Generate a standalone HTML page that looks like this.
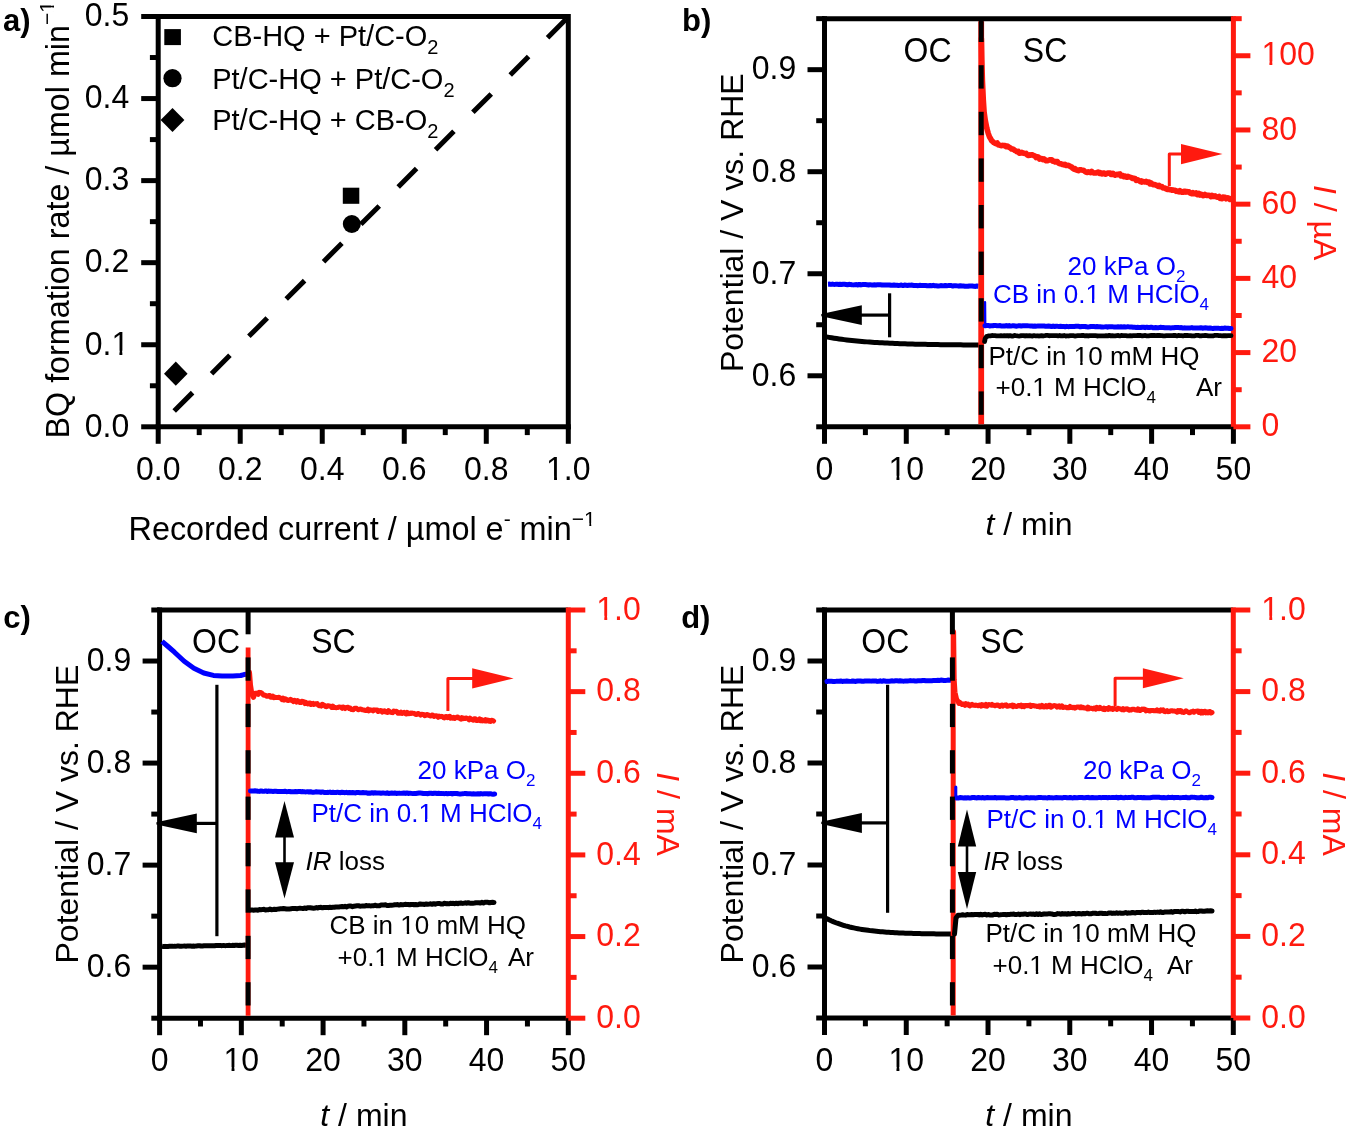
<!DOCTYPE html>
<html><head><meta charset="utf-8"><title>Figure</title>
<style>
html,body{margin:0;padding:0;background:#fff;width:1350px;height:1130px;overflow:hidden}
svg{display:block;will-change:transform}
text{font-family:"Liberation Sans", sans-serif;white-space:pre}
</style></head>
<body>
<svg width="1350" height="1130" viewBox="0 0 1350 1130" font-family='"Liberation Sans", sans-serif'>
<rect width="1350" height="1130" fill="#fff"/>
<line x1="155.70" y1="16.50" x2="568.30" y2="16.50" stroke="#000" stroke-width="5.0" />
<line x1="158.20" y1="14.00" x2="158.20" y2="429.30" stroke="#000" stroke-width="5.0" />
<line x1="155.70" y1="426.80" x2="570.80" y2="426.80" stroke="#000" stroke-width="5.0" />
<line x1="568.30" y1="14.00" x2="568.30" y2="429.30" stroke="#000" stroke-width="5.0" />
<line x1="141.20" y1="426.80" x2="158.20" y2="426.80" stroke="#000" stroke-width="5.0" />
<line x1="141.20" y1="344.74" x2="158.20" y2="344.74" stroke="#000" stroke-width="5.0" />
<line x1="141.20" y1="262.68" x2="158.20" y2="262.68" stroke="#000" stroke-width="5.0" />
<line x1="141.20" y1="180.62" x2="158.20" y2="180.62" stroke="#000" stroke-width="5.0" />
<line x1="141.20" y1="98.56" x2="158.20" y2="98.56" stroke="#000" stroke-width="5.0" />
<line x1="141.20" y1="16.50" x2="158.20" y2="16.50" stroke="#000" stroke-width="5.0" />
<line x1="149.90" y1="385.77" x2="158.20" y2="385.77" stroke="#000" stroke-width="5.0" />
<line x1="149.90" y1="303.71" x2="158.20" y2="303.71" stroke="#000" stroke-width="5.0" />
<line x1="149.90" y1="221.65" x2="158.20" y2="221.65" stroke="#000" stroke-width="5.0" />
<line x1="149.90" y1="139.59" x2="158.20" y2="139.59" stroke="#000" stroke-width="5.0" />
<line x1="149.90" y1="57.53" x2="158.20" y2="57.53" stroke="#000" stroke-width="5.0" />
<line x1="158.20" y1="426.80" x2="158.20" y2="443.80" stroke="#000" stroke-width="5.0" />
<line x1="240.22" y1="426.80" x2="240.22" y2="443.80" stroke="#000" stroke-width="5.0" />
<line x1="322.24" y1="426.80" x2="322.24" y2="443.80" stroke="#000" stroke-width="5.0" />
<line x1="404.26" y1="426.80" x2="404.26" y2="443.80" stroke="#000" stroke-width="5.0" />
<line x1="486.28" y1="426.80" x2="486.28" y2="443.80" stroke="#000" stroke-width="5.0" />
<line x1="568.30" y1="426.80" x2="568.30" y2="443.80" stroke="#000" stroke-width="5.0" />
<line x1="199.21" y1="426.80" x2="199.21" y2="435.10" stroke="#000" stroke-width="5.0" />
<line x1="281.23" y1="426.80" x2="281.23" y2="435.10" stroke="#000" stroke-width="5.0" />
<line x1="363.25" y1="426.80" x2="363.25" y2="435.10" stroke="#000" stroke-width="5.0" />
<line x1="445.27" y1="426.80" x2="445.27" y2="435.10" stroke="#000" stroke-width="5.0" />
<line x1="527.29" y1="426.80" x2="527.29" y2="435.10" stroke="#000" stroke-width="5.0" />
<text transform="translate(129.20,436.60) scale(1,1.03)" font-size="32" text-anchor="end" fill="#000" font-weight="normal" >0.0</text>
<text transform="translate(129.20,354.54) scale(1,1.03)" font-size="32" text-anchor="end" fill="#000" font-weight="normal" >0.1</text>
<text transform="translate(129.20,272.48) scale(1,1.03)" font-size="32" text-anchor="end" fill="#000" font-weight="normal" >0.2</text>
<text transform="translate(129.20,190.42) scale(1,1.03)" font-size="32" text-anchor="end" fill="#000" font-weight="normal" >0.3</text>
<text transform="translate(129.20,108.36) scale(1,1.03)" font-size="32" text-anchor="end" fill="#000" font-weight="normal" >0.4</text>
<text transform="translate(129.20,26.30) scale(1,1.03)" font-size="32" text-anchor="end" fill="#000" font-weight="normal" >0.5</text>
<text transform="translate(158.20,479.60) scale(1,1.03)" font-size="32" text-anchor="middle" fill="#000" font-weight="normal" >0.0</text>
<text transform="translate(240.22,479.60) scale(1,1.03)" font-size="32" text-anchor="middle" fill="#000" font-weight="normal" >0.2</text>
<text transform="translate(322.24,479.60) scale(1,1.03)" font-size="32" text-anchor="middle" fill="#000" font-weight="normal" >0.4</text>
<text transform="translate(404.26,479.60) scale(1,1.03)" font-size="32" text-anchor="middle" fill="#000" font-weight="normal" >0.6</text>
<text transform="translate(486.28,479.60) scale(1,1.03)" font-size="32" text-anchor="middle" fill="#000" font-weight="normal" >0.8</text>
<text transform="translate(568.30,479.60) scale(1,1.03)" font-size="32" text-anchor="middle" fill="#000" font-weight="normal" >1.0</text>
<line x1="174.2" y1="411.0" x2="568.3" y2="16.9" stroke="#000" stroke-width="5.0" stroke-dasharray="26 26.8"/>
<rect x="342.8" y="187.7" width="16.5" height="16.1" fill="#000"/>
<circle cx="351.8" cy="224.0" r="9.0" fill="#000"/>
<path d="M175.8,361.6 L187.6,373.7 L175.8,385.8 L164.0,373.7Z" fill="#000"/>
<rect x="164.3" y="29.1" width="16.6" height="16.0" fill="#000"/>
<circle cx="172.5" cy="78.2" r="9.1" fill="#000"/>
<path d="M172.5,108 L184.4,120 L172.5,132 L160.6,120Z" fill="#000"/>
<text x="212.2" y="46.3" font-size="29">CB-HQ + Pt/C-O<tspan font-size="20" dy="8">2</tspan></text>
<text x="212.2" y="88.5" font-size="29">Pt/C-HQ + Pt/C-O<tspan font-size="20" dy="8">2</tspan></text>
<text x="212.2" y="129.5" font-size="29">Pt/C-HQ + CB-O<tspan font-size="20" dy="8">2</tspan></text>
<text transform="translate(68.5,438.5) rotate(-90)" font-size="32.3">BQ formation rate / µmol min<tspan font-size="21" dy="-15">−1</tspan></text>
<text x="128.5" y="539.8" font-size="32.4">Recorded current / µmol e<tspan font-size="21" dy="-14">-</tspan><tspan dy="14"> min</tspan><tspan font-size="21" dy="-14">−1</tspan></text>
<text x="3.00" y="31.00" font-size="31" text-anchor="start" fill="#000" font-weight="bold" >a)</text>
<line x1="822.00" y1="18.65" x2="1233.40" y2="18.65" stroke="#000" stroke-width="5.0" />
<line x1="824.50" y1="16.15" x2="824.50" y2="429.30" stroke="#000" stroke-width="5.0" />
<line x1="822.00" y1="426.80" x2="1235.90" y2="426.80" stroke="#000" stroke-width="5.0" />
<line x1="1233.40" y1="16.15" x2="1233.40" y2="429.30" stroke="#ff1a0f" stroke-width="5.0" />
<line x1="807.50" y1="375.78" x2="824.50" y2="375.78" stroke="#000" stroke-width="5.0" />
<line x1="807.50" y1="273.74" x2="824.50" y2="273.74" stroke="#000" stroke-width="5.0" />
<line x1="807.50" y1="171.71" x2="824.50" y2="171.71" stroke="#000" stroke-width="5.0" />
<line x1="807.50" y1="69.67" x2="824.50" y2="69.67" stroke="#000" stroke-width="5.0" />
<line x1="816.20" y1="426.80" x2="824.50" y2="426.80" stroke="#000" stroke-width="5.0" />
<line x1="816.20" y1="324.76" x2="824.50" y2="324.76" stroke="#000" stroke-width="5.0" />
<line x1="816.20" y1="222.73" x2="824.50" y2="222.73" stroke="#000" stroke-width="5.0" />
<line x1="816.20" y1="120.69" x2="824.50" y2="120.69" stroke="#000" stroke-width="5.0" />
<line x1="816.20" y1="18.65" x2="824.50" y2="18.65" stroke="#000" stroke-width="5.0" />
<line x1="824.50" y1="426.80" x2="824.50" y2="443.80" stroke="#000" stroke-width="5.0" />
<line x1="906.28" y1="426.80" x2="906.28" y2="443.80" stroke="#000" stroke-width="5.0" />
<line x1="988.06" y1="426.80" x2="988.06" y2="443.80" stroke="#000" stroke-width="5.0" />
<line x1="1069.84" y1="426.80" x2="1069.84" y2="443.80" stroke="#000" stroke-width="5.0" />
<line x1="1151.62" y1="426.80" x2="1151.62" y2="443.80" stroke="#000" stroke-width="5.0" />
<line x1="1233.40" y1="426.80" x2="1233.40" y2="443.80" stroke="#000" stroke-width="5.0" />
<line x1="865.39" y1="426.80" x2="865.39" y2="435.10" stroke="#000" stroke-width="5.0" />
<line x1="947.17" y1="426.80" x2="947.17" y2="435.10" stroke="#000" stroke-width="5.0" />
<line x1="1028.95" y1="426.80" x2="1028.95" y2="435.10" stroke="#000" stroke-width="5.0" />
<line x1="1110.73" y1="426.80" x2="1110.73" y2="435.10" stroke="#000" stroke-width="5.0" />
<line x1="1192.51" y1="426.80" x2="1192.51" y2="435.10" stroke="#000" stroke-width="5.0" />
<line x1="1233.40" y1="426.80" x2="1250.40" y2="426.80" stroke="#ff1a0f" stroke-width="5.0" />
<line x1="1233.40" y1="352.59" x2="1250.40" y2="352.59" stroke="#ff1a0f" stroke-width="5.0" />
<line x1="1233.40" y1="278.38" x2="1250.40" y2="278.38" stroke="#ff1a0f" stroke-width="5.0" />
<line x1="1233.40" y1="204.17" x2="1250.40" y2="204.17" stroke="#ff1a0f" stroke-width="5.0" />
<line x1="1233.40" y1="129.96" x2="1250.40" y2="129.96" stroke="#ff1a0f" stroke-width="5.0" />
<line x1="1233.40" y1="55.75" x2="1250.40" y2="55.75" stroke="#ff1a0f" stroke-width="5.0" />
<line x1="1233.40" y1="389.70" x2="1241.70" y2="389.70" stroke="#ff1a0f" stroke-width="5.0" />
<line x1="1233.40" y1="315.49" x2="1241.70" y2="315.49" stroke="#ff1a0f" stroke-width="5.0" />
<line x1="1233.40" y1="241.28" x2="1241.70" y2="241.28" stroke="#ff1a0f" stroke-width="5.0" />
<line x1="1233.40" y1="167.07" x2="1241.70" y2="167.07" stroke="#ff1a0f" stroke-width="5.0" />
<line x1="1233.40" y1="92.86" x2="1241.70" y2="92.86" stroke="#ff1a0f" stroke-width="5.0" />
<line x1="1233.40" y1="18.65" x2="1241.70" y2="18.65" stroke="#ff1a0f" stroke-width="5.0" />
<text transform="translate(796.20,385.58) scale(1,1.03)" font-size="32" text-anchor="end" fill="#000" font-weight="normal" >0.6</text>
<text transform="translate(796.20,283.54) scale(1,1.03)" font-size="32" text-anchor="end" fill="#000" font-weight="normal" >0.7</text>
<text transform="translate(796.20,181.51) scale(1,1.03)" font-size="32" text-anchor="end" fill="#000" font-weight="normal" >0.8</text>
<text transform="translate(796.20,79.47) scale(1,1.03)" font-size="32" text-anchor="end" fill="#000" font-weight="normal" >0.9</text>
<text transform="translate(824.50,479.60) scale(1,1.03)" font-size="32" text-anchor="middle" fill="#000" font-weight="normal" >0</text>
<text transform="translate(906.28,479.60) scale(1,1.03)" font-size="32" text-anchor="middle" fill="#000" font-weight="normal" >10</text>
<text transform="translate(988.06,479.60) scale(1,1.03)" font-size="32" text-anchor="middle" fill="#000" font-weight="normal" >20</text>
<text transform="translate(1069.84,479.60) scale(1,1.03)" font-size="32" text-anchor="middle" fill="#000" font-weight="normal" >30</text>
<text transform="translate(1151.62,479.60) scale(1,1.03)" font-size="32" text-anchor="middle" fill="#000" font-weight="normal" >40</text>
<text transform="translate(1233.40,479.60) scale(1,1.03)" font-size="32" text-anchor="middle" fill="#000" font-weight="normal" >50</text>
<text transform="translate(1261.40,436.40) scale(1,1.03)" font-size="32" text-anchor="start" fill="#ff1a0f" font-weight="normal" >0</text>
<text transform="translate(1261.40,362.19) scale(1,1.03)" font-size="32" text-anchor="start" fill="#ff1a0f" font-weight="normal" >20</text>
<text transform="translate(1261.40,287.98) scale(1,1.03)" font-size="32" text-anchor="start" fill="#ff1a0f" font-weight="normal" >40</text>
<text transform="translate(1261.40,213.77) scale(1,1.03)" font-size="32" text-anchor="start" fill="#ff1a0f" font-weight="normal" >60</text>
<text transform="translate(1261.40,139.56) scale(1,1.03)" font-size="32" text-anchor="start" fill="#ff1a0f" font-weight="normal" >80</text>
<text transform="translate(1261.40,65.35) scale(1,1.03)" font-size="32" text-anchor="start" fill="#ff1a0f" font-weight="normal" >100</text>
<text transform="translate(743.0,222.7) rotate(-90)" font-size="32" text-anchor="middle">Potential / V vs. RHE</text>
<text transform="translate(1313.9,222.7) rotate(90)" font-size="32" text-anchor="middle" fill="#ff1a0f"><tspan font-style="italic">I</tspan> / µA</text>
<text x="1029.0" y="534.6" font-size="32" text-anchor="middle"><tspan font-style="italic">t</tspan> / min</text>
<text x="682.00" y="30.60" font-size="31" text-anchor="start" fill="#000" font-weight="bold" >b)</text>
<path d="M828.00,284.19 L829.50,284.11 L831.00,284.43 L832.50,284.10 L834.00,284.40 L835.50,284.31 L837.00,284.15 L838.50,284.44 L840.00,284.17 L841.50,284.43 L843.00,284.23 L844.50,284.26 L846.00,284.48 L847.50,284.74 L849.00,284.34 L850.50,284.42 L852.00,284.68 L853.50,284.89 L855.00,284.68 L856.50,284.59 L858.00,284.96 L859.50,284.42 L861.00,284.93 L862.50,284.61 L864.00,284.54 L865.50,284.54 L867.00,284.67 L868.50,285.00 L870.00,284.63 L871.50,284.89 L873.00,284.95 L874.50,284.80 L876.00,284.93 L877.50,284.66 L879.00,284.67 L880.50,284.78 L882.00,285.08 L883.50,284.95 L885.00,284.90 L886.50,285.08 L888.00,285.02 L889.50,284.95 L891.00,285.26 L892.50,285.23 L894.00,284.97 L895.50,285.19 L897.00,285.18 L898.50,285.41 L900.00,285.34 L901.51,285.09 L903.02,285.53 L904.53,285.03 L906.04,285.23 L907.55,285.45 L909.06,285.11 L910.57,285.33 L912.08,285.08 L913.59,285.47 L915.10,285.55 L916.61,285.46 L918.12,285.66 L919.62,285.34 L921.13,285.59 L922.64,285.55 L924.15,285.56 L925.66,285.50 L927.17,285.75 L928.68,285.83 L930.19,285.57 L931.70,285.70 L933.21,285.36 L934.72,285.76 L936.23,285.75 L937.74,285.98 L939.25,285.89 L940.76,285.59 L942.27,285.67 L943.78,285.86 L945.29,285.49 L946.80,285.77 L948.31,285.62 L949.82,285.60 L951.33,285.59 L952.84,286.03 L954.35,285.67 L955.86,285.76 L957.37,285.87 L958.88,286.17 L960.38,285.72 L961.89,285.96 L963.40,286.04 L964.91,286.26 L966.42,286.24 L967.93,286.28 L969.44,285.95 L970.95,286.05 L972.46,286.04 L973.97,286.37 L975.48,286.44 L976.99,285.97 L978.50,286.20" fill="none" stroke="#0000ff" stroke-width="5" stroke-linejoin="round" stroke-linecap="butt" />
<path d="M826.50,336.89 L829.03,337.35 L831.57,337.79 L834.10,338.20 L836.63,338.59 L839.17,338.96 L841.70,339.30 L844.23,339.63 L846.77,339.94 L849.30,340.24 L851.83,340.51 L854.37,340.77 L856.90,341.02 L859.43,341.26 L861.97,341.48 L864.50,341.69 L867.03,341.88 L869.57,342.07 L872.10,342.25 L874.63,342.42 L877.17,342.57 L879.70,342.72 L882.23,342.86 L884.77,343.00 L887.30,343.12 L889.83,343.24 L892.37,343.36 L894.90,343.46 L897.43,343.56 L899.97,343.66 L902.50,343.75 L905.03,343.83 L907.57,343.91 L910.10,343.99 L912.63,344.06 L915.17,344.13 L917.70,344.19 L920.23,344.25 L922.77,344.31 L925.30,344.36 L927.83,344.42 L930.37,344.46 L932.90,344.51 L935.43,344.55 L937.97,344.59 L940.50,344.63 L943.03,344.67 L945.57,344.70 L948.10,344.74 L950.63,344.77 L953.17,344.80 L955.70,344.82 L958.23,344.85 L960.77,344.87 L963.30,344.90 L965.83,344.92 L968.37,344.94 L970.90,344.96 L973.43,344.98 L975.97,345.00 L978.50,345.01" fill="none" stroke="#000" stroke-width="5" stroke-linejoin="round" stroke-linecap="round" />
<line x1="981.20" y1="424.30" x2="981.20" y2="21.15" stroke="#ff1a0f" stroke-width="5.8" />
<path d="M981.40,38.92 L981.80,59.52 L982.40,80.52 L983.30,99.97 L984.10,112.16 L985.30,120.57 L986.90,128.61 L988.15,133.05 L989.40,136.66 L990.52,138.44 L991.65,140.57 L992.77,141.52 L993.90,142.63 L995.00,143.21 L996.10,143.72 L997.20,143.00 L998.30,144.92 L999.41,145.03 L1000.52,145.52 L1001.64,145.71 L1002.75,145.31 L1003.86,145.64 L1004.98,145.44 L1006.09,146.72 L1007.20,146.01 L1008.31,146.65 L1009.43,147.53 L1010.54,148.07 L1011.65,149.01 L1012.76,149.12 L1013.88,149.65 L1014.99,150.55 L1016.10,151.08 L1017.21,151.80 L1018.33,151.45 L1019.44,153.22 L1020.55,153.01 L1021.66,152.42 L1022.77,152.85 L1023.89,153.28 L1025.00,153.56 L1026.11,153.40 L1027.22,154.98 L1028.34,155.51 L1029.45,154.84 L1030.56,155.15 L1031.68,154.70 L1032.79,155.01 L1033.90,155.72 L1035.01,156.03 L1036.12,157.49 L1037.24,156.74 L1038.35,156.94 L1039.46,159.06 L1040.58,158.75 L1041.69,158.51 L1042.80,159.68 L1043.91,158.85 L1045.03,159.85 L1046.14,160.76 L1047.25,160.65 L1048.36,160.45 L1049.47,159.77 L1050.59,160.06 L1051.70,159.80 L1052.81,161.23 L1053.92,161.13 L1055.04,161.91 L1056.15,161.44 L1057.26,161.59 L1058.38,162.99 L1059.49,163.64 L1060.60,163.73 L1061.70,164.10 L1062.80,164.57 L1063.90,164.88 L1065.00,164.41 L1066.10,165.38 L1067.20,165.54 L1068.30,165.40 L1069.40,165.85 L1070.51,166.69 L1071.62,167.04 L1072.74,168.21 L1073.85,169.07 L1074.96,168.54 L1076.08,169.81 L1077.19,170.29 L1078.30,170.62 L1079.41,169.81 L1080.53,169.80 L1081.64,170.06 L1082.75,170.25 L1083.86,170.52 L1084.97,171.52 L1086.09,172.27 L1087.20,172.41 L1088.31,171.85 L1089.42,172.25 L1090.54,172.60 L1091.65,171.40 L1092.76,172.53 L1093.88,173.06 L1094.99,172.92 L1096.10,172.95 L1097.10,172.56 L1098.10,172.12 L1099.10,173.32 L1100.10,172.60 L1101.10,173.54 L1102.10,173.95 L1103.10,173.01 L1104.10,173.12 L1105.28,174.18 L1106.46,173.86 L1107.64,172.95 L1108.82,172.95 L1110.00,173.07 L1111.00,174.54 L1112.00,174.47 L1113.00,173.39 L1114.00,174.73 L1115.00,175.11 L1116.00,174.64 L1117.00,174.20 L1118.00,174.67 L1119.00,174.03 L1120.00,173.93 L1121.00,175.92 L1122.00,175.61 L1123.00,175.66 L1124.00,176.66 L1125.00,176.03 L1126.00,177.09 L1127.00,177.28 L1128.00,176.44 L1129.00,176.78 L1130.00,177.13 L1131.00,177.36 L1132.00,178.32 L1133.00,178.06 L1134.00,178.67 L1135.00,178.49 L1136.00,180.22 L1137.00,179.55 L1138.00,180.06 L1139.00,180.62 L1140.00,181.53 L1141.00,180.90 L1142.00,182.03 L1143.00,181.52 L1144.00,181.82 L1145.00,182.04 L1146.00,181.37 L1147.00,182.37 L1148.00,182.15 L1149.00,182.07 L1150.00,183.74 L1151.00,182.94 L1152.00,183.81 L1153.00,184.60 L1154.00,184.62 L1155.00,184.54 L1156.00,185.21 L1157.00,185.61 L1158.00,186.35 L1159.00,185.46 L1160.00,186.61 L1161.00,186.36 L1162.00,186.72 L1163.00,187.92 L1164.00,187.75 L1165.00,188.16 L1166.00,188.83 L1167.00,189.41 L1168.00,188.88 L1169.00,189.49 L1170.00,189.61 L1171.00,189.78 L1172.00,190.27 L1173.00,189.99 L1174.00,190.30 L1175.00,190.36 L1176.00,191.35 L1177.00,191.08 L1178.00,191.56 L1179.00,191.84 L1180.00,190.77 L1181.00,191.47 L1182.00,192.32 L1183.00,192.29 L1184.00,191.19 L1185.00,191.32 L1186.00,192.06 L1187.00,191.55 L1188.00,192.01 L1189.00,191.87 L1190.00,193.11 L1191.00,193.45 L1192.00,193.79 L1193.00,192.60 L1194.00,193.75 L1195.00,193.79 L1196.00,193.00 L1197.00,194.47 L1198.00,194.76 L1199.00,193.56 L1200.00,195.01 L1201.00,194.20 L1202.00,194.54 L1203.00,195.62 L1204.00,195.52 L1205.00,194.49 L1206.00,195.16 L1207.00,195.49 L1208.00,195.35 L1209.00,195.27 L1210.00,195.67 L1211.00,196.55 L1212.00,195.44 L1213.00,196.55 L1214.00,196.49 L1215.00,195.88 L1216.00,196.60 L1217.00,197.27 L1218.00,197.22 L1219.00,196.57 L1220.00,198.37 L1221.00,198.14 L1222.00,198.59 L1223.00,197.14 L1224.00,197.55 L1225.00,197.26 L1226.00,198.71 L1227.00,197.91 L1228.00,197.78 L1229.00,198.42 L1230.00,199.42 L1231.00,198.80" fill="none" stroke="#ff1a0f" stroke-width="5.6" stroke-linejoin="round" stroke-linecap="round" />
<path d="M985.00,302.30 L985.20,323.00" fill="none" stroke="#0000ff" stroke-width="2.4" stroke-linejoin="round" stroke-linecap="round" />
<path d="M985.00,325.79 L986.51,325.47 L988.03,325.42 L989.54,325.90 L991.05,325.71 L992.57,325.80 L994.08,325.45 L995.59,325.45 L997.11,325.84 L998.62,325.70 L1000.13,325.50 L1001.64,326.04 L1003.16,325.87 L1004.67,325.99 L1006.18,325.57 L1007.70,326.05 L1009.21,325.59 L1010.72,326.09 L1012.24,325.86 L1013.75,325.80 L1015.26,325.95 L1016.78,326.19 L1018.29,325.81 L1019.80,325.74 L1021.32,326.00 L1022.83,325.84 L1024.34,325.78 L1025.86,325.82 L1027.37,325.77 L1028.88,325.88 L1030.39,325.96 L1031.91,325.97 L1033.42,326.26 L1034.93,326.00 L1036.45,326.14 L1037.96,325.96 L1039.47,326.08 L1040.99,325.90 L1042.50,326.05 L1044.01,325.92 L1045.53,326.37 L1047.04,326.28 L1048.55,326.08 L1050.07,326.26 L1051.58,326.56 L1053.09,326.07 L1054.61,326.52 L1056.12,326.30 L1057.63,326.35 L1059.14,326.57 L1060.66,326.33 L1062.17,326.41 L1063.68,326.53 L1065.20,326.73 L1066.71,326.36 L1068.22,326.67 L1069.74,326.61 L1071.25,326.58 L1072.76,326.46 L1074.28,326.44 L1075.79,326.28 L1077.30,326.34 L1078.82,326.32 L1080.33,326.74 L1081.84,326.46 L1083.36,326.42 L1084.87,326.39 L1086.38,326.86 L1087.89,326.90 L1089.41,326.79 L1090.92,326.57 L1092.43,326.57 L1093.95,326.61 L1095.46,326.73 L1096.97,326.56 L1098.49,326.75 L1100.00,326.66 L1101.51,327.10 L1103.01,327.12 L1104.52,326.88 L1106.02,326.72 L1107.53,327.17 L1109.03,326.80 L1110.54,326.84 L1112.05,326.65 L1113.55,326.89 L1115.06,326.97 L1116.56,327.00 L1118.07,326.84 L1119.57,327.04 L1121.08,326.76 L1122.59,326.93 L1124.09,326.85 L1125.60,327.05 L1127.10,326.86 L1128.61,326.86 L1130.11,327.05 L1131.62,327.03 L1133.13,327.26 L1134.63,327.24 L1136.14,327.39 L1137.64,327.35 L1139.15,327.41 L1140.66,327.52 L1142.16,327.25 L1143.67,327.23 L1145.17,327.64 L1146.68,327.16 L1148.18,327.52 L1149.69,327.49 L1151.20,327.15 L1152.70,327.64 L1154.21,327.70 L1155.71,327.56 L1157.22,327.64 L1158.72,327.70 L1160.23,327.32 L1161.74,327.57 L1163.24,327.58 L1164.75,327.79 L1166.25,327.79 L1167.76,327.82 L1169.26,327.70 L1170.77,327.90 L1172.28,327.79 L1173.78,327.82 L1175.29,327.56 L1176.79,327.46 L1178.30,327.54 L1179.80,327.69 L1181.31,327.56 L1182.82,328.01 L1184.32,327.87 L1185.83,327.92 L1187.33,327.94 L1188.84,327.99 L1190.34,327.90 L1191.85,327.62 L1193.36,328.12 L1194.86,328.11 L1196.37,327.98 L1197.87,328.02 L1199.38,328.11 L1200.89,327.77 L1202.39,328.19 L1203.90,327.92 L1205.40,327.83 L1206.91,327.97 L1208.41,328.26 L1209.92,327.97 L1211.43,328.30 L1212.93,328.46 L1214.44,328.19 L1215.94,328.15 L1217.45,328.22 L1218.95,328.36 L1220.46,328.43 L1221.97,328.36 L1223.47,328.39 L1224.98,328.07 L1226.48,328.13 L1227.99,328.22 L1229.49,328.53 L1231.00,328.40" fill="none" stroke="#0000ff" stroke-width="5" stroke-linejoin="round" stroke-linecap="round" />
<path d="M984.60,341.50 L985.20,338.50 L986.50,336.60 L989.00,335.80 L990.50,335.84 L992.01,335.50 L993.51,335.53 L995.01,335.66 L996.52,335.90 L998.02,335.91 L999.52,335.90 L1001.02,335.66 L1002.53,335.80 L1004.03,335.77 L1005.53,335.77 L1007.04,335.56 L1008.54,336.02 L1010.04,335.60 L1011.55,336.07 L1013.05,336.04 L1014.55,335.49 L1016.06,335.75 L1017.56,335.97 L1019.06,336.06 L1020.57,335.74 L1022.07,335.63 L1023.57,335.60 L1025.07,336.04 L1026.58,335.60 L1028.08,335.82 L1029.58,335.55 L1031.09,335.78 L1032.59,336.04 L1034.09,335.54 L1035.60,335.95 L1037.10,335.77 L1038.60,335.99 L1040.11,335.88 L1041.61,335.60 L1043.11,335.99 L1044.61,335.75 L1046.12,335.47 L1047.62,335.45 L1049.12,335.75 L1050.63,335.72 L1052.13,335.63 L1053.63,335.53 L1055.14,335.65 L1056.64,335.63 L1058.14,335.95 L1059.65,335.44 L1061.15,335.89 L1062.65,335.94 L1064.16,335.51 L1065.66,335.99 L1067.16,335.86 L1068.66,335.98 L1070.17,335.61 L1071.67,335.66 L1073.17,335.67 L1074.68,336.03 L1076.18,335.78 L1077.68,335.64 L1079.19,335.68 L1080.69,335.59 L1082.19,335.45 L1083.70,335.48 L1085.20,335.92 L1086.70,335.59 L1088.20,335.98 L1089.71,335.57 L1091.21,335.57 L1092.71,335.72 L1094.22,335.53 L1095.72,335.64 L1097.22,335.98 L1098.73,335.94 L1100.23,335.90 L1101.73,335.79 L1103.24,335.95 L1104.74,335.97 L1106.24,335.73 L1107.75,335.83 L1109.25,335.43 L1110.75,335.84 L1112.25,335.67 L1113.76,335.85 L1115.26,335.78 L1116.76,335.57 L1118.27,335.42 L1119.77,335.95 L1121.27,335.47 L1122.78,335.67 L1124.28,335.59 L1125.78,335.57 L1127.29,335.83 L1128.79,335.97 L1130.29,335.54 L1131.80,335.78 L1133.30,335.56 L1134.80,335.71 L1136.30,335.61 L1137.81,335.48 L1139.31,335.47 L1140.81,335.50 L1142.32,335.92 L1143.82,335.67 L1145.32,335.50 L1146.83,335.91 L1148.33,335.97 L1149.83,335.64 L1151.34,335.45 L1152.84,335.48 L1154.34,335.42 L1155.84,335.57 L1157.35,335.42 L1158.85,335.50 L1160.35,335.51 L1161.86,335.70 L1163.36,335.89 L1164.86,335.80 L1166.37,335.60 L1167.87,335.60 L1169.37,335.67 L1170.88,335.58 L1172.38,335.55 L1173.88,335.38 L1175.39,335.51 L1176.89,335.93 L1178.39,335.42 L1179.89,335.64 L1181.40,335.72 L1182.90,335.86 L1184.40,335.47 L1185.91,335.50 L1187.41,335.49 L1188.91,335.57 L1190.42,335.60 L1191.92,335.90 L1193.42,335.84 L1194.93,335.85 L1196.43,335.34 L1197.93,335.35 L1199.43,335.75 L1200.94,335.86 L1202.44,335.61 L1203.94,335.67 L1205.45,335.32 L1206.95,335.55 L1208.45,335.87 L1209.96,335.81 L1211.46,335.83 L1212.96,335.90 L1214.47,335.46 L1215.97,335.38 L1217.47,335.40 L1218.98,335.62 L1220.48,335.72 L1221.98,335.87 L1223.48,335.74 L1224.99,335.69 L1226.49,335.76 L1227.99,335.58 L1229.50,335.63 L1231.00,335.60" fill="none" stroke="#000" stroke-width="4.8" stroke-linejoin="round" stroke-linecap="round" />
<line x1="981.20" y1="18.65" x2="981.20" y2="42.00" stroke="#000" stroke-width="5.0" />
<line x1="981.20" y1="65.20" x2="981.20" y2="88.60" stroke="#000" stroke-width="5.0" />
<line x1="981.20" y1="111.80" x2="981.20" y2="135.20" stroke="#000" stroke-width="5.0" />
<line x1="981.20" y1="158.40" x2="981.20" y2="181.80" stroke="#000" stroke-width="5.0" />
<line x1="981.20" y1="205.00" x2="981.20" y2="228.40" stroke="#000" stroke-width="5.0" />
<line x1="981.20" y1="251.60" x2="981.20" y2="275.00" stroke="#000" stroke-width="5.0" />
<line x1="981.20" y1="298.20" x2="981.20" y2="321.60" stroke="#000" stroke-width="5.0" />
<line x1="981.20" y1="344.80" x2="981.20" y2="368.20" stroke="#000" stroke-width="5.0" />
<line x1="981.20" y1="391.40" x2="981.20" y2="414.80" stroke="#000" stroke-width="5.0" />
<path d="M821.30,314.00 L861.80,305.30 L861.80,324.90 L821.30,316.20Z" fill="#000" stroke="none" />
<line x1="860.80" y1="315.10" x2="889.60" y2="315.10" stroke="#000" stroke-width="3.2" />
<line x1="889.60" y1="293.30" x2="889.60" y2="337.30" stroke="#000" stroke-width="3.2" />
<path d="M1169.30,186.00 L1169.30,154.10 L1182.00,154.10" fill="none" stroke="#ff1a0f" stroke-width="3.0" stroke-linejoin="round" stroke-linecap="butt" />
<path d="M1181.00,144.00 L1222.50,154.10 L1181.00,164.20Z" fill="#ff1a0f" stroke="none" />
<text transform="translate(903.50,62.30) scale(1,1.1)" font-size="32" text-anchor="start" fill="#000" font-weight="normal" >OC</text>
<text transform="translate(1022.80,62.30) scale(1,1.1)" font-size="32" text-anchor="start" fill="#000" font-weight="normal" >SC</text>
<text x="1067.5" y="274.7" font-size="26" fill="#0000ff">20 kPa O<tspan font-size="17" dy="7">2</tspan><tspan dy="-7"></tspan></text>
<text x="993.0" y="302.5" font-size="26" fill="#0000ff">CB in 0.1 M HClO<tspan font-size="17" dy="7">4</tspan><tspan dy="-7"></tspan></text>
<text x="988.5" y="364.6" font-size="26" fill="#000">Pt/C in 10 mM HQ</text>
<text x="995.5" y="396.4" font-size="26" fill="#000">+0.1 M HClO<tspan font-size="17" dy="7">4</tspan><tspan dy="-7"></tspan></text>
<text x="1196.0" y="396.4" font-size="26" fill="#000">Ar</text>
<line x1="157.10" y1="610.00" x2="568.30" y2="610.00" stroke="#000" stroke-width="5.0" />
<line x1="159.60" y1="607.50" x2="159.60" y2="1020.70" stroke="#000" stroke-width="5.0" />
<line x1="157.10" y1="1018.20" x2="570.80" y2="1018.20" stroke="#000" stroke-width="5.0" />
<line x1="568.30" y1="607.50" x2="568.30" y2="1020.70" stroke="#ff1a0f" stroke-width="5.0" />
<line x1="142.60" y1="967.18" x2="159.60" y2="967.18" stroke="#000" stroke-width="5.0" />
<line x1="142.60" y1="865.13" x2="159.60" y2="865.13" stroke="#000" stroke-width="5.0" />
<line x1="142.60" y1="763.08" x2="159.60" y2="763.08" stroke="#000" stroke-width="5.0" />
<line x1="142.60" y1="661.03" x2="159.60" y2="661.03" stroke="#000" stroke-width="5.0" />
<line x1="151.30" y1="1018.20" x2="159.60" y2="1018.20" stroke="#000" stroke-width="5.0" />
<line x1="151.30" y1="916.15" x2="159.60" y2="916.15" stroke="#000" stroke-width="5.0" />
<line x1="151.30" y1="814.10" x2="159.60" y2="814.10" stroke="#000" stroke-width="5.0" />
<line x1="151.30" y1="712.05" x2="159.60" y2="712.05" stroke="#000" stroke-width="5.0" />
<line x1="151.30" y1="610.00" x2="159.60" y2="610.00" stroke="#000" stroke-width="5.0" />
<line x1="159.60" y1="1018.20" x2="159.60" y2="1035.20" stroke="#000" stroke-width="5.0" />
<line x1="241.34" y1="1018.20" x2="241.34" y2="1035.20" stroke="#000" stroke-width="5.0" />
<line x1="323.08" y1="1018.20" x2="323.08" y2="1035.20" stroke="#000" stroke-width="5.0" />
<line x1="404.82" y1="1018.20" x2="404.82" y2="1035.20" stroke="#000" stroke-width="5.0" />
<line x1="486.56" y1="1018.20" x2="486.56" y2="1035.20" stroke="#000" stroke-width="5.0" />
<line x1="568.30" y1="1018.20" x2="568.30" y2="1035.20" stroke="#000" stroke-width="5.0" />
<line x1="200.47" y1="1018.20" x2="200.47" y2="1026.50" stroke="#000" stroke-width="5.0" />
<line x1="282.21" y1="1018.20" x2="282.21" y2="1026.50" stroke="#000" stroke-width="5.0" />
<line x1="363.95" y1="1018.20" x2="363.95" y2="1026.50" stroke="#000" stroke-width="5.0" />
<line x1="445.69" y1="1018.20" x2="445.69" y2="1026.50" stroke="#000" stroke-width="5.0" />
<line x1="527.43" y1="1018.20" x2="527.43" y2="1026.50" stroke="#000" stroke-width="5.0" />
<line x1="568.30" y1="1018.20" x2="585.30" y2="1018.20" stroke="#ff1a0f" stroke-width="5.0" />
<line x1="568.30" y1="936.56" x2="585.30" y2="936.56" stroke="#ff1a0f" stroke-width="5.0" />
<line x1="568.30" y1="854.92" x2="585.30" y2="854.92" stroke="#ff1a0f" stroke-width="5.0" />
<line x1="568.30" y1="773.28" x2="585.30" y2="773.28" stroke="#ff1a0f" stroke-width="5.0" />
<line x1="568.30" y1="691.64" x2="585.30" y2="691.64" stroke="#ff1a0f" stroke-width="5.0" />
<line x1="568.30" y1="610.00" x2="585.30" y2="610.00" stroke="#ff1a0f" stroke-width="5.0" />
<line x1="568.30" y1="977.38" x2="576.60" y2="977.38" stroke="#ff1a0f" stroke-width="5.0" />
<line x1="568.30" y1="895.74" x2="576.60" y2="895.74" stroke="#ff1a0f" stroke-width="5.0" />
<line x1="568.30" y1="814.10" x2="576.60" y2="814.10" stroke="#ff1a0f" stroke-width="5.0" />
<line x1="568.30" y1="732.46" x2="576.60" y2="732.46" stroke="#ff1a0f" stroke-width="5.0" />
<line x1="568.30" y1="650.82" x2="576.60" y2="650.82" stroke="#ff1a0f" stroke-width="5.0" />
<text transform="translate(131.30,976.98) scale(1,1.03)" font-size="32" text-anchor="end" fill="#000" font-weight="normal" >0.6</text>
<text transform="translate(131.30,874.93) scale(1,1.03)" font-size="32" text-anchor="end" fill="#000" font-weight="normal" >0.7</text>
<text transform="translate(131.30,772.88) scale(1,1.03)" font-size="32" text-anchor="end" fill="#000" font-weight="normal" >0.8</text>
<text transform="translate(131.30,670.83) scale(1,1.03)" font-size="32" text-anchor="end" fill="#000" font-weight="normal" >0.9</text>
<text transform="translate(159.60,1071.00) scale(1,1.03)" font-size="32" text-anchor="middle" fill="#000" font-weight="normal" >0</text>
<text transform="translate(241.34,1071.00) scale(1,1.03)" font-size="32" text-anchor="middle" fill="#000" font-weight="normal" >10</text>
<text transform="translate(323.08,1071.00) scale(1,1.03)" font-size="32" text-anchor="middle" fill="#000" font-weight="normal" >20</text>
<text transform="translate(404.82,1071.00) scale(1,1.03)" font-size="32" text-anchor="middle" fill="#000" font-weight="normal" >30</text>
<text transform="translate(486.56,1071.00) scale(1,1.03)" font-size="32" text-anchor="middle" fill="#000" font-weight="normal" >40</text>
<text transform="translate(568.30,1071.00) scale(1,1.03)" font-size="32" text-anchor="middle" fill="#000" font-weight="normal" >50</text>
<text transform="translate(596.30,1027.80) scale(1,1.03)" font-size="32" text-anchor="start" fill="#ff1a0f" font-weight="normal" >0.0</text>
<text transform="translate(596.30,946.16) scale(1,1.03)" font-size="32" text-anchor="start" fill="#ff1a0f" font-weight="normal" >0.2</text>
<text transform="translate(596.30,864.52) scale(1,1.03)" font-size="32" text-anchor="start" fill="#ff1a0f" font-weight="normal" >0.4</text>
<text transform="translate(596.30,782.88) scale(1,1.03)" font-size="32" text-anchor="start" fill="#ff1a0f" font-weight="normal" >0.6</text>
<text transform="translate(596.30,701.24) scale(1,1.03)" font-size="32" text-anchor="start" fill="#ff1a0f" font-weight="normal" >0.8</text>
<text transform="translate(596.30,619.60) scale(1,1.03)" font-size="32" text-anchor="start" fill="#ff1a0f" font-weight="normal" >1.0</text>
<text transform="translate(78.1,814.1) rotate(-90)" font-size="32" text-anchor="middle">Potential / V vs. RHE</text>
<text transform="translate(657.3,814.1) rotate(90)" font-size="32" text-anchor="middle" fill="#ff1a0f"><tspan font-style="italic">I</tspan> / mA</text>
<text x="363.9" y="1126.0" font-size="32" text-anchor="middle"><tspan font-style="italic">t</tspan> / min</text>
<text x="3.20" y="628.20" font-size="31" text-anchor="start" fill="#000" font-weight="bold" >c)</text>
<path d="M162.00,641.30 L168.00,646.50 L174.50,652.20 L184.20,661.30 L193.90,668.30 L203.70,673.00 L213.40,675.40 L222.00,676.10 L232.90,676.00 L240.70,675.50 L244.00,674.60 L246.50,674.30" fill="none" stroke="#0000ff" stroke-width="5" stroke-linejoin="round" stroke-linecap="butt" />
<path d="M162.00,946.32 L163.50,946.59 L165.00,946.35 L166.50,946.60 L168.00,946.47 L169.50,946.31 L171.00,946.21 L172.50,946.24 L174.00,946.37 L175.50,946.37 L177.00,946.11 L178.50,946.07 L180.00,946.23 L181.50,946.23 L183.00,946.13 L184.50,946.04 L186.00,946.17 L187.50,945.91 L189.00,946.00 L190.50,946.04 L192.00,946.22 L193.50,946.07 L195.00,946.14 L196.50,945.96 L198.00,945.84 L199.50,945.82 L201.00,946.08 L202.50,945.96 L204.00,945.77 L205.50,945.64 L207.00,945.80 L208.50,945.85 L210.00,945.73 L211.50,945.64 L213.00,945.78 L214.50,945.86 L216.00,945.56 L217.50,945.45 L219.00,945.55 L220.50,945.56 L222.00,945.64 L223.50,945.43 L225.00,945.64 L226.50,945.60 L228.00,945.48 L229.50,945.34 L231.00,945.62 L232.50,945.33 L234.00,945.51 L235.50,945.25 L237.00,945.23 L238.50,945.42 L240.00,945.21 L241.50,945.45 L243.00,945.24 L244.50,945.10 L246.00,945.20" fill="none" stroke="#000" stroke-width="5" stroke-linejoin="round" stroke-linecap="butt" />
<line x1="248.10" y1="1015.70" x2="248.10" y2="647.40" stroke="#ff1a0f" stroke-width="4.8" />
<path d="M249.50,672.15 L250.50,684.83 L252.00,694.83 L253.50,697.40 L255.00,693.29 L256.10,693.56 L257.20,692.98 L258.30,694.27 L259.40,692.38 L260.44,692.50 L261.47,692.82 L262.51,693.79 L263.54,695.10 L264.58,695.37 L265.61,695.37 L266.65,696.20 L267.69,696.36 L268.72,695.46 L269.76,695.47 L270.79,697.27 L271.83,697.19 L272.86,696.06 L273.90,697.63 L274.93,697.24 L275.96,697.42 L276.99,697.52 L278.01,697.38 L279.04,697.23 L280.07,697.97 L281.10,698.30 L282.13,699.70 L283.16,698.22 L284.19,700.09 L285.21,698.76 L286.24,699.24 L287.27,700.36 L288.30,700.54 L289.34,699.94 L290.37,699.36 L291.41,700.38 L292.44,700.36 L293.48,701.63 L294.51,700.36 L295.55,700.88 L296.59,702.12 L297.62,700.57 L298.66,701.51 L299.69,702.49 L300.73,702.58 L301.76,701.30 L302.80,701.47 L303.83,701.68 L304.86,703.54 L305.89,702.36 L306.91,703.49 L307.94,703.95 L308.97,702.98 L310.00,702.99 L311.03,704.52 L312.06,703.98 L313.09,703.42 L314.11,704.48 L315.14,703.83 L316.17,703.90 L317.20,703.51 L318.24,705.16 L319.27,705.63 L320.31,705.22 L321.34,705.99 L322.38,704.30 L323.41,704.87 L324.45,705.50 L325.49,706.61 L326.52,706.76 L327.56,705.77 L328.59,705.65 L329.63,706.16 L330.66,706.44 L331.70,707.46 L332.73,706.07 L333.76,707.42 L334.79,707.40 L335.81,707.67 L336.84,707.68 L337.87,707.46 L338.90,707.01 L339.93,707.10 L340.96,707.29 L341.99,708.24 L343.01,706.94 L344.04,707.28 L345.07,708.50 L346.10,707.59 L347.14,707.33 L348.17,707.37 L349.21,708.51 L350.24,708.15 L351.28,709.56 L352.31,709.47 L353.35,709.78 L354.39,708.43 L355.42,708.17 L356.46,708.29 L357.49,709.20 L358.53,709.72 L359.56,709.29 L360.60,708.97 L361.64,709.41 L362.67,709.89 L363.71,710.07 L364.75,710.29 L365.78,710.56 L366.82,710.27 L367.85,709.25 L368.89,710.76 L369.93,709.74 L370.96,710.36 L372.00,710.05 L373.03,710.85 L374.07,709.85 L375.10,710.03 L376.14,710.10 L377.17,709.99 L378.21,711.53 L379.24,711.00 L380.28,710.57 L381.31,710.78 L382.35,712.05 L383.38,711.16 L384.42,710.69 L385.45,711.92 L386.48,711.68 L387.52,712.44 L388.55,710.74 L389.59,711.56 L390.62,712.32 L391.66,712.44 L392.69,712.67 L393.73,711.00 L394.76,711.58 L395.80,711.31 L396.83,711.53 L397.87,713.17 L398.90,712.47 L399.93,713.27 L400.96,712.27 L402.00,713.38 L403.03,712.66 L404.06,712.39 L405.09,713.54 L406.12,713.99 L407.16,712.43 L408.19,713.52 L409.22,713.68 L410.25,712.99 L411.29,713.41 L412.32,713.07 L413.35,713.31 L414.38,713.52 L415.41,714.33 L416.45,714.55 L417.48,713.76 L418.51,713.49 L419.54,714.24 L420.57,715.06 L421.61,714.18 L422.64,714.55 L423.67,714.45 L424.70,715.75 L425.74,715.37 L426.77,714.51 L427.80,714.70 L428.83,715.38 L429.86,715.77 L430.90,716.04 L431.93,715.03 L432.96,715.26 L433.99,716.41 L435.02,715.92 L436.06,715.75 L437.09,715.89 L438.12,717.26 L439.15,716.07 L440.19,716.66 L441.22,716.33 L442.25,716.53 L443.28,717.51 L444.31,717.86 L445.35,716.68 L446.38,716.44 L447.41,717.58 L448.44,716.62 L449.48,716.31 L450.51,718.19 L451.54,717.32 L452.57,718.20 L453.60,717.46 L454.64,718.49 L455.67,717.74 L456.70,717.23 L457.73,717.02 L458.76,718.17 L459.80,718.44 L460.83,719.06 L461.86,717.51 L462.89,718.66 L463.93,718.24 L464.96,718.59 L465.99,717.96 L467.02,718.32 L468.05,718.89 L469.09,719.78 L470.12,718.23 L471.15,719.08 L472.18,719.80 L473.21,720.21 L474.25,718.75 L475.28,718.70 L476.31,720.41 L477.34,720.57 L478.38,719.67 L479.41,718.89 L480.44,720.72 L481.47,719.73 L482.50,720.85 L483.54,720.37 L484.57,720.86 L485.60,719.62 L486.60,720.96 L487.60,719.92 L488.60,720.37 L489.60,721.34 L490.60,721.40 L491.60,720.19 L492.60,720.35 L493.60,721.00" fill="none" stroke="#ff1a0f" stroke-width="5.0" stroke-linejoin="round" stroke-linecap="round" />
<path d="M250.50,790.94 L252.00,791.03 L253.50,790.98 L255.00,790.85 L256.50,790.94 L258.00,791.26 L259.50,791.38 L261.00,790.89 L262.50,791.23 L264.00,791.37 L265.50,790.96 L267.00,791.47 L268.50,791.06 L270.00,791.37 L271.50,791.37 L273.00,791.44 L274.50,791.27 L276.00,791.36 L277.50,791.48 L279.00,791.41 L280.50,791.58 L282.00,791.47 L283.50,791.49 L285.00,791.27 L286.50,791.65 L288.00,791.60 L289.50,791.47 L291.00,791.81 L292.50,791.84 L294.00,791.67 L295.50,791.53 L297.00,791.73 L298.50,791.54 L300.00,791.57 L301.50,791.78 L303.00,791.60 L304.50,791.83 L306.00,791.90 L307.50,791.64 L309.00,792.02 L310.50,791.71 L312.00,792.13 L313.50,792.18 L315.00,792.04 L316.50,791.79 L318.00,792.09 L319.50,792.04 L321.00,792.40 L322.50,791.94 L324.00,792.39 L325.50,792.50 L327.00,792.37 L328.50,792.44 L330.00,792.09 L331.50,792.59 L333.00,792.32 L334.50,792.62 L336.00,792.62 L337.50,792.20 L339.00,792.59 L340.50,792.70 L342.00,792.21 L343.50,792.40 L345.00,792.67 L346.50,792.34 L348.00,792.80 L349.50,792.46 L351.00,792.80 L352.50,792.42 L354.00,792.66 L355.50,792.94 L357.00,792.54 L358.50,792.59 L360.00,792.76 L361.50,792.67 L363.00,792.53 L364.50,792.64 L366.00,792.65 L367.50,793.14 L369.00,793.01 L370.50,793.16 L372.00,792.75 L373.50,793.15 L375.00,792.77 L376.51,793.03 L378.03,793.11 L379.54,792.95 L381.06,793.27 L382.57,793.10 L384.08,793.12 L385.60,793.32 L387.11,792.86 L388.63,793.41 L390.14,793.20 L391.65,793.08 L393.17,793.33 L394.68,793.02 L396.19,793.47 L397.71,793.24 L399.22,793.12 L400.74,793.37 L402.25,793.19 L403.76,793.05 L405.28,793.40 L406.79,792.99 L408.31,793.47 L409.82,793.14 L411.33,793.39 L412.85,793.61 L414.36,793.38 L415.88,793.44 L417.39,793.24 L418.90,793.07 L420.42,793.10 L421.93,793.18 L423.45,793.47 L424.96,793.38 L426.47,793.44 L427.99,793.68 L429.50,793.23 L431.02,793.30 L432.53,793.57 L434.04,793.21 L435.56,793.21 L437.07,793.43 L438.58,793.30 L440.10,793.46 L441.61,793.39 L443.13,793.62 L444.64,793.64 L446.15,793.42 L447.67,793.68 L449.18,793.61 L450.70,793.41 L452.21,793.91 L453.72,793.50 L455.24,793.46 L456.75,793.44 L458.27,793.78 L459.78,793.93 L461.29,793.89 L462.81,793.68 L464.32,793.61 L465.84,793.47 L467.35,793.86 L468.86,793.82 L470.38,793.71 L471.89,793.90 L473.41,793.79 L474.92,794.10 L476.43,793.99 L477.95,793.71 L479.46,794.12 L480.97,793.61 L482.49,793.92 L484.00,793.85 L485.52,793.77 L487.03,793.67 L488.54,794.12 L490.06,793.67 L491.57,794.01 L493.09,794.25 L494.60,794.00" fill="none" stroke="#0000ff" stroke-width="5" stroke-linejoin="round" stroke-linecap="round" />
<path d="M250.50,909.91 L252.00,909.90 L253.50,910.17 L255.00,910.04 L256.50,910.09 L258.00,910.17 L259.50,909.60 L261.00,909.65 L262.50,909.59 L264.00,909.33 L265.50,909.95 L267.00,909.80 L268.50,909.69 L270.00,909.07 L271.50,909.68 L273.00,909.55 L274.50,909.27 L276.00,909.43 L277.50,909.14 L279.00,908.90 L280.50,908.75 L282.00,908.80 L283.50,908.59 L285.00,908.77 L286.50,909.04 L288.00,908.94 L289.50,909.00 L291.00,908.84 L292.50,908.43 L294.00,908.60 L295.50,908.45 L297.00,908.68 L298.50,908.41 L300.00,908.14 L301.50,908.39 L303.00,908.59 L304.50,907.94 L306.00,908.41 L307.50,907.66 L309.00,907.80 L310.50,907.72 L312.00,908.07 L313.50,908.18 L315.00,907.96 L316.50,907.57 L318.00,907.96 L319.50,907.46 L321.00,907.33 L322.50,907.81 L324.00,907.53 L325.50,907.52 L327.00,907.44 L328.50,907.64 L330.00,907.17 L331.50,907.41 L333.00,907.24 L334.50,907.31 L336.00,906.92 L337.50,907.10 L339.00,906.92 L340.50,906.65 L342.00,906.52 L343.50,906.79 L345.00,906.29 L346.50,906.90 L348.00,906.23 L349.50,906.08 L351.00,906.09 L352.50,906.69 L354.00,906.17 L355.50,905.95 L357.00,905.80 L358.50,905.76 L360.00,906.22 L361.50,906.12 L363.00,906.11 L364.50,906.09 L366.00,905.49 L367.50,905.86 L369.00,905.62 L370.50,905.92 L372.00,905.87 L373.50,905.87 L375.00,905.15 L376.51,905.75 L378.01,905.75 L379.52,905.74 L381.03,905.03 L382.53,905.07 L384.04,904.95 L385.54,904.85 L387.05,905.46 L388.56,905.40 L390.06,905.21 L391.57,905.33 L393.08,905.13 L394.58,904.82 L396.09,904.63 L397.59,904.59 L399.10,905.08 L400.61,904.60 L402.11,904.65 L403.62,904.69 L405.13,904.33 L406.63,904.48 L408.14,904.46 L409.65,904.77 L411.15,904.45 L412.66,904.38 L414.16,904.85 L415.67,904.44 L417.18,904.68 L418.68,904.46 L420.19,903.95 L421.70,904.21 L423.20,904.19 L424.71,904.42 L426.22,904.04 L427.72,904.29 L429.23,904.12 L430.73,903.82 L432.24,904.30 L433.75,903.64 L435.25,904.19 L436.76,903.63 L438.27,903.45 L439.77,903.57 L441.28,903.98 L442.78,904.12 L444.29,903.30 L445.80,903.65 L447.30,903.61 L448.81,903.81 L450.32,903.29 L451.82,903.49 L453.33,903.34 L454.84,903.69 L456.34,903.19 L457.85,903.70 L459.35,903.13 L460.86,903.04 L462.37,903.38 L463.87,903.18 L465.38,902.83 L466.89,903.22 L468.39,902.73 L469.90,903.26 L471.41,903.15 L472.91,903.18 L474.42,903.01 L475.92,902.76 L477.43,902.75 L478.94,902.71 L480.44,903.07 L481.95,902.38 L483.46,902.99 L484.96,902.26 L486.47,902.36 L487.97,902.37 L489.48,902.84 L490.99,902.48 L492.49,902.34 L494.00,902.40" fill="none" stroke="#000" stroke-width="5" stroke-linejoin="round" stroke-linecap="round" />
<line x1="248.10" y1="611.00" x2="248.10" y2="634.30" stroke="#000" stroke-width="5.0" />
<line x1="248.10" y1="657.40" x2="248.10" y2="680.70" stroke="#000" stroke-width="5.0" />
<line x1="248.10" y1="703.80" x2="248.10" y2="727.10" stroke="#000" stroke-width="5.0" />
<line x1="248.10" y1="750.20" x2="248.10" y2="773.50" stroke="#000" stroke-width="5.0" />
<line x1="248.10" y1="796.60" x2="248.10" y2="819.90" stroke="#000" stroke-width="5.0" />
<line x1="248.10" y1="843.00" x2="248.10" y2="866.30" stroke="#000" stroke-width="5.0" />
<line x1="248.10" y1="889.40" x2="248.10" y2="912.70" stroke="#000" stroke-width="5.0" />
<line x1="248.10" y1="935.80" x2="248.10" y2="959.10" stroke="#000" stroke-width="5.0" />
<line x1="248.10" y1="982.20" x2="248.10" y2="1005.50" stroke="#000" stroke-width="5.0" />
<path d="M156.40,822.30 L196.80,813.50 L196.80,833.30 L156.40,824.50Z" fill="#000" stroke="none" />
<line x1="195.80" y1="823.40" x2="216.90" y2="823.40" stroke="#000" stroke-width="3.2" />
<line x1="216.90" y1="684.80" x2="216.90" y2="936.20" stroke="#000" stroke-width="3.2" />
<path d="M447.90,711.10 L447.90,678.40 L473.20,678.40" fill="none" stroke="#ff1a0f" stroke-width="3.0" stroke-linejoin="round" stroke-linecap="butt" />
<path d="M472.20,668.20 L513.60,678.40 L472.20,688.60Z" fill="#ff1a0f" stroke="none" />
<path d="M284.50,800.90 L275.00,837.50 L294.00,837.50Z" fill="#000" stroke="none" />
<path d="M284.50,898.60 L275.00,862.20 L294.00,862.20Z" fill="#000" stroke="none" />
<line x1="284.50" y1="836.50" x2="284.50" y2="863.20" stroke="#000" stroke-width="2.6" />
<text transform="translate(192.00,653.00) scale(1,1.1)" font-size="32" text-anchor="start" fill="#000" font-weight="normal" >OC</text>
<text transform="translate(311.20,653.00) scale(1,1.1)" font-size="32" text-anchor="start" fill="#000" font-weight="normal" >SC</text>
<text x="417.5" y="778.9" font-size="26" fill="#0000ff">20 kPa O<tspan font-size="17" dy="7">2</tspan><tspan dy="-7"></tspan></text>
<text x="311.5" y="822.0" font-size="26" fill="#0000ff">Pt/C in 0.1 M HClO<tspan font-size="17" dy="7">4</tspan><tspan dy="-7"></tspan></text>
<text x="305.5" y="870.4" font-size="26"><tspan font-style="italic">IR</tspan> loss</text>
<text x="329.5" y="934.4" font-size="26" fill="#000">CB in 10 mM HQ</text>
<text x="337.5" y="966.0" font-size="26" fill="#000">+0.1 M HClO<tspan font-size="17" dy="7">4</tspan><tspan dy="-7"></tspan></text>
<text x="508.0" y="966.0" font-size="26" fill="#000">Ar</text>
<line x1="822.00" y1="610.00" x2="1233.30" y2="610.00" stroke="#000" stroke-width="5.0" />
<line x1="824.50" y1="607.50" x2="824.50" y2="1020.50" stroke="#000" stroke-width="5.0" />
<line x1="822.00" y1="1018.00" x2="1235.80" y2="1018.00" stroke="#000" stroke-width="5.0" />
<line x1="1233.30" y1="607.50" x2="1233.30" y2="1020.50" stroke="#ff1a0f" stroke-width="5.0" />
<line x1="807.50" y1="967.00" x2="824.50" y2="967.00" stroke="#000" stroke-width="5.0" />
<line x1="807.50" y1="865.00" x2="824.50" y2="865.00" stroke="#000" stroke-width="5.0" />
<line x1="807.50" y1="763.00" x2="824.50" y2="763.00" stroke="#000" stroke-width="5.0" />
<line x1="807.50" y1="661.00" x2="824.50" y2="661.00" stroke="#000" stroke-width="5.0" />
<line x1="816.20" y1="1018.00" x2="824.50" y2="1018.00" stroke="#000" stroke-width="5.0" />
<line x1="816.20" y1="916.00" x2="824.50" y2="916.00" stroke="#000" stroke-width="5.0" />
<line x1="816.20" y1="814.00" x2="824.50" y2="814.00" stroke="#000" stroke-width="5.0" />
<line x1="816.20" y1="712.00" x2="824.50" y2="712.00" stroke="#000" stroke-width="5.0" />
<line x1="816.20" y1="610.00" x2="824.50" y2="610.00" stroke="#000" stroke-width="5.0" />
<line x1="824.50" y1="1018.00" x2="824.50" y2="1035.00" stroke="#000" stroke-width="5.0" />
<line x1="906.26" y1="1018.00" x2="906.26" y2="1035.00" stroke="#000" stroke-width="5.0" />
<line x1="988.02" y1="1018.00" x2="988.02" y2="1035.00" stroke="#000" stroke-width="5.0" />
<line x1="1069.78" y1="1018.00" x2="1069.78" y2="1035.00" stroke="#000" stroke-width="5.0" />
<line x1="1151.54" y1="1018.00" x2="1151.54" y2="1035.00" stroke="#000" stroke-width="5.0" />
<line x1="1233.30" y1="1018.00" x2="1233.30" y2="1035.00" stroke="#000" stroke-width="5.0" />
<line x1="865.38" y1="1018.00" x2="865.38" y2="1026.30" stroke="#000" stroke-width="5.0" />
<line x1="947.14" y1="1018.00" x2="947.14" y2="1026.30" stroke="#000" stroke-width="5.0" />
<line x1="1028.90" y1="1018.00" x2="1028.90" y2="1026.30" stroke="#000" stroke-width="5.0" />
<line x1="1110.66" y1="1018.00" x2="1110.66" y2="1026.30" stroke="#000" stroke-width="5.0" />
<line x1="1192.42" y1="1018.00" x2="1192.42" y2="1026.30" stroke="#000" stroke-width="5.0" />
<line x1="1233.30" y1="1018.00" x2="1250.30" y2="1018.00" stroke="#ff1a0f" stroke-width="5.0" />
<line x1="1233.30" y1="936.40" x2="1250.30" y2="936.40" stroke="#ff1a0f" stroke-width="5.0" />
<line x1="1233.30" y1="854.80" x2="1250.30" y2="854.80" stroke="#ff1a0f" stroke-width="5.0" />
<line x1="1233.30" y1="773.20" x2="1250.30" y2="773.20" stroke="#ff1a0f" stroke-width="5.0" />
<line x1="1233.30" y1="691.60" x2="1250.30" y2="691.60" stroke="#ff1a0f" stroke-width="5.0" />
<line x1="1233.30" y1="610.00" x2="1250.30" y2="610.00" stroke="#ff1a0f" stroke-width="5.0" />
<line x1="1233.30" y1="977.20" x2="1241.60" y2="977.20" stroke="#ff1a0f" stroke-width="5.0" />
<line x1="1233.30" y1="895.60" x2="1241.60" y2="895.60" stroke="#ff1a0f" stroke-width="5.0" />
<line x1="1233.30" y1="814.00" x2="1241.60" y2="814.00" stroke="#ff1a0f" stroke-width="5.0" />
<line x1="1233.30" y1="732.40" x2="1241.60" y2="732.40" stroke="#ff1a0f" stroke-width="5.0" />
<line x1="1233.30" y1="650.80" x2="1241.60" y2="650.80" stroke="#ff1a0f" stroke-width="5.0" />
<text transform="translate(796.20,976.80) scale(1,1.03)" font-size="32" text-anchor="end" fill="#000" font-weight="normal" >0.6</text>
<text transform="translate(796.20,874.80) scale(1,1.03)" font-size="32" text-anchor="end" fill="#000" font-weight="normal" >0.7</text>
<text transform="translate(796.20,772.80) scale(1,1.03)" font-size="32" text-anchor="end" fill="#000" font-weight="normal" >0.8</text>
<text transform="translate(796.20,670.80) scale(1,1.03)" font-size="32" text-anchor="end" fill="#000" font-weight="normal" >0.9</text>
<text transform="translate(824.50,1070.80) scale(1,1.03)" font-size="32" text-anchor="middle" fill="#000" font-weight="normal" >0</text>
<text transform="translate(906.26,1070.80) scale(1,1.03)" font-size="32" text-anchor="middle" fill="#000" font-weight="normal" >10</text>
<text transform="translate(988.02,1070.80) scale(1,1.03)" font-size="32" text-anchor="middle" fill="#000" font-weight="normal" >20</text>
<text transform="translate(1069.78,1070.80) scale(1,1.03)" font-size="32" text-anchor="middle" fill="#000" font-weight="normal" >30</text>
<text transform="translate(1151.54,1070.80) scale(1,1.03)" font-size="32" text-anchor="middle" fill="#000" font-weight="normal" >40</text>
<text transform="translate(1233.30,1070.80) scale(1,1.03)" font-size="32" text-anchor="middle" fill="#000" font-weight="normal" >50</text>
<text transform="translate(1261.30,1027.60) scale(1,1.03)" font-size="32" text-anchor="start" fill="#ff1a0f" font-weight="normal" >0.0</text>
<text transform="translate(1261.30,946.00) scale(1,1.03)" font-size="32" text-anchor="start" fill="#ff1a0f" font-weight="normal" >0.2</text>
<text transform="translate(1261.30,864.40) scale(1,1.03)" font-size="32" text-anchor="start" fill="#ff1a0f" font-weight="normal" >0.4</text>
<text transform="translate(1261.30,782.80) scale(1,1.03)" font-size="32" text-anchor="start" fill="#ff1a0f" font-weight="normal" >0.6</text>
<text transform="translate(1261.30,701.20) scale(1,1.03)" font-size="32" text-anchor="start" fill="#ff1a0f" font-weight="normal" >0.8</text>
<text transform="translate(1261.30,619.60) scale(1,1.03)" font-size="32" text-anchor="start" fill="#ff1a0f" font-weight="normal" >1.0</text>
<text transform="translate(743.0,814.0) rotate(-90)" font-size="32" text-anchor="middle">Potential / V vs. RHE</text>
<text transform="translate(1322.8,814.0) rotate(90)" font-size="32" text-anchor="middle" fill="#ff1a0f"><tspan font-style="italic">I</tspan> / mA</text>
<text x="1028.9" y="1125.8" font-size="32" text-anchor="middle"><tspan font-style="italic">t</tspan> / min</text>
<text x="681.20" y="628.00" font-size="31" text-anchor="start" fill="#000" font-weight="bold" >d)</text>
<path d="M827.00,681.53 L828.52,681.13 L830.04,681.26 L831.56,681.30 L833.08,681.43 L834.60,681.42 L836.12,681.35 L837.65,681.17 L839.17,681.15 L840.69,681.04 L842.21,681.44 L843.73,681.33 L845.25,681.37 L846.77,681.02 L848.29,681.18 L849.81,681.37 L851.33,681.25 L852.85,680.97 L854.38,681.16 L855.90,681.41 L857.42,681.02 L858.94,680.98 L860.46,681.04 L861.98,681.28 L863.50,681.36 L865.02,680.94 L866.54,680.93 L868.06,680.98 L869.58,681.02 L871.10,681.13 L872.62,680.91 L874.15,681.00 L875.67,680.91 L877.19,681.38 L878.71,681.22 L880.23,680.84 L881.75,681.35 L883.27,680.83 L884.79,680.99 L886.31,681.35 L887.83,681.23 L889.35,681.18 L890.88,681.00 L892.40,680.85 L893.92,681.11 L895.44,680.78 L896.96,680.84 L898.48,680.94 L900.00,680.72 L901.52,680.92 L903.03,681.13 L904.55,681.04 L906.06,680.90 L907.58,680.96 L909.09,680.83 L910.61,680.62 L912.12,680.87 L913.64,680.72 L915.15,680.90 L916.67,680.98 L918.18,680.67 L919.70,680.73 L921.21,680.81 L922.73,680.59 L924.24,680.45 L925.76,680.72 L927.27,680.79 L928.79,680.70 L930.30,680.64 L931.82,680.70 L933.33,680.57 L934.85,680.53 L936.36,680.39 L937.88,680.28 L939.39,680.45 L940.91,680.10 L942.42,680.27 L943.94,680.47 L945.45,680.40 L946.97,680.33 L948.48,680.07 L950.00,680.20" fill="none" stroke="#0000ff" stroke-width="5" stroke-linejoin="round" stroke-linecap="round" />
<path d="M827.00,918.70 L829.06,919.73 L831.12,920.70 L833.17,921.60 L835.23,922.44 L837.29,923.23 L839.35,923.96 L841.41,924.65 L843.47,925.29 L845.52,925.89 L847.58,926.44 L849.64,926.97 L851.70,927.45 L853.76,927.91 L855.82,928.33 L857.88,928.73 L859.93,929.10 L861.99,929.44 L864.05,929.76 L866.11,930.06 L868.17,930.34 L870.23,930.61 L872.28,930.85 L874.34,931.08 L876.40,931.29 L878.46,931.49 L880.52,931.68 L882.58,931.85 L884.63,932.02 L886.69,932.17 L888.75,932.31 L890.81,932.44 L892.87,932.56 L894.92,932.68 L896.98,932.79 L899.04,932.89 L901.10,932.98 L903.16,933.07 L905.22,933.15 L907.27,933.23 L909.33,933.30 L911.39,933.36 L913.45,933.43 L915.51,933.48 L917.57,933.54 L919.62,933.59 L921.68,933.64 L923.74,933.68 L925.80,933.72 L927.86,933.76 L929.92,933.80 L931.98,933.83 L934.03,933.86 L936.09,933.89 L938.15,933.92 L940.21,933.94 L942.27,933.97 L944.33,933.99 L946.38,934.01 L948.44,934.03 L950.50,934.05" fill="none" stroke="#000" stroke-width="5" stroke-linejoin="round" stroke-linecap="round" />
<line x1="953.20" y1="1015.50" x2="953.20" y2="631.50" stroke="#ff1a0f" stroke-width="5.0" />
<path d="M953.60,631.85 L954.20,679.91 L955.00,692.24 L956.50,698.82 L957.75,701.15 L959.00,703.46 L960.00,702.43 L961.00,703.84 L962.00,704.56 L963.00,703.90 L964.00,704.23 L965.00,705.32 L966.00,703.58 L967.00,704.71 L968.00,704.07 L969.00,705.44 L970.00,705.88 L971.00,705.06 L972.00,704.24 L973.00,705.20 L974.00,705.15 L975.00,705.52 L976.00,705.12 L977.00,705.40 L978.00,705.79 L979.00,705.19 L980.00,704.99 L981.00,706.08 L982.00,704.62 L983.00,705.59 L984.00,705.02 L985.00,705.78 L986.00,704.51 L987.00,706.25 L988.00,705.01 L989.00,704.43 L990.00,704.88 L991.00,705.15 L992.00,704.39 L993.00,705.22 L994.00,705.24 L995.00,705.81 L996.00,705.14 L997.00,704.98 L998.00,704.92 L999.00,705.97 L1000.00,706.38 L1001.00,705.57 L1002.00,704.97 L1003.00,706.15 L1004.00,705.35 L1005.00,705.01 L1006.00,704.86 L1007.00,706.17 L1008.00,706.25 L1009.00,705.92 L1010.00,705.60 L1011.00,705.81 L1012.00,705.15 L1013.00,706.64 L1014.00,705.44 L1015.00,706.03 L1016.00,706.40 L1017.00,706.42 L1018.00,705.74 L1019.00,705.41 L1020.00,705.93 L1021.00,705.10 L1022.00,706.53 L1023.00,705.59 L1024.00,706.60 L1025.00,705.45 L1026.00,705.69 L1027.00,705.46 L1028.00,705.82 L1029.00,705.36 L1030.00,705.01 L1031.00,706.46 L1032.00,705.60 L1033.00,705.54 L1034.00,705.67 L1035.00,706.04 L1036.00,705.96 L1037.00,706.39 L1038.00,706.45 L1039.00,705.87 L1040.00,707.02 L1041.00,706.89 L1042.00,705.31 L1043.00,706.87 L1044.00,707.04 L1045.00,706.82 L1046.00,705.55 L1047.00,706.95 L1048.00,706.57 L1049.00,705.35 L1050.00,705.36 L1051.00,707.25 L1052.00,706.68 L1053.00,705.88 L1054.00,705.60 L1055.00,705.70 L1056.00,705.90 L1057.00,707.00 L1058.00,706.16 L1059.00,705.79 L1060.00,707.31 L1061.00,707.14 L1062.00,705.96 L1063.00,707.46 L1064.00,706.96 L1065.00,707.36 L1066.00,707.20 L1067.00,707.71 L1068.00,707.56 L1069.00,707.72 L1070.00,706.49 L1071.00,707.55 L1072.00,707.28 L1073.00,707.76 L1074.00,707.22 L1075.00,708.17 L1076.00,707.57 L1077.00,707.05 L1078.00,707.05 L1079.00,706.92 L1080.00,707.69 L1081.00,706.88 L1082.00,707.75 L1083.00,707.17 L1084.00,707.92 L1085.00,708.00 L1086.00,708.11 L1087.00,708.78 L1088.00,707.09 L1089.00,708.79 L1090.00,708.07 L1091.00,708.29 L1092.00,708.52 L1093.00,708.89 L1094.00,707.99 L1095.00,708.10 L1096.00,709.21 L1097.00,707.47 L1098.00,708.62 L1099.00,708.65 L1100.00,707.46 L1101.00,708.65 L1102.00,708.82 L1103.00,709.34 L1104.00,708.17 L1105.00,709.50 L1106.00,708.58 L1107.00,708.56 L1108.00,709.41 L1109.00,707.71 L1110.00,709.10 L1111.00,708.94 L1112.00,708.40 L1113.00,709.47 L1114.00,708.51 L1115.00,708.75 L1116.00,708.89 L1117.00,709.42 L1118.00,708.34 L1119.00,708.83 L1120.00,708.84 L1121.00,709.15 L1122.00,709.73 L1123.00,708.71 L1124.00,709.82 L1125.00,709.01 L1126.00,709.25 L1127.00,708.82 L1128.00,709.33 L1129.00,710.31 L1130.00,709.71 L1131.00,710.02 L1132.00,709.14 L1133.00,709.15 L1134.00,709.16 L1135.00,709.77 L1136.00,709.91 L1137.00,710.25 L1138.00,708.80 L1139.00,710.21 L1140.00,710.57 L1141.00,709.93 L1142.00,708.98 L1143.00,709.52 L1144.00,708.97 L1145.00,709.38 L1146.00,710.88 L1147.00,710.30 L1148.00,710.44 L1149.00,710.74 L1150.00,711.02 L1151.00,710.47 L1152.00,710.52 L1153.00,710.58 L1154.00,710.77 L1155.00,710.61 L1156.00,710.82 L1157.00,709.93 L1158.00,710.88 L1159.00,710.51 L1160.00,711.16 L1161.00,709.88 L1162.00,710.08 L1163.00,709.84 L1164.00,711.36 L1165.00,711.68 L1166.00,711.20 L1167.00,710.67 L1168.00,711.63 L1169.00,711.60 L1170.00,711.19 L1171.00,710.63 L1172.00,710.76 L1173.00,711.04 L1174.00,710.88 L1175.00,711.14 L1176.00,711.61 L1177.00,712.24 L1178.00,710.52 L1179.00,711.59 L1180.00,710.58 L1181.00,710.77 L1182.00,712.18 L1183.00,711.74 L1184.00,712.46 L1185.00,711.55 L1186.00,710.72 L1187.00,711.49 L1188.00,711.93 L1189.00,712.66 L1190.00,712.77 L1191.00,711.79 L1192.00,711.70 L1193.00,711.11 L1194.00,712.23 L1195.00,711.39 L1196.00,711.30 L1197.00,711.06 L1198.00,711.07 L1199.00,712.46 L1200.00,711.37 L1201.00,713.09 L1202.00,711.36 L1203.00,712.96 L1204.00,711.51 L1205.00,711.32 L1206.00,712.75 L1207.00,711.83 L1208.00,712.84 L1209.00,711.78 L1210.00,711.54 L1211.00,713.02 L1212.00,712.50" fill="none" stroke="#ff1a0f" stroke-width="5.0" stroke-linejoin="round" stroke-linecap="round" />
<path d="M955.80,787.00 L955.80,796.00" fill="none" stroke="#0000ff" stroke-width="3.0" stroke-linejoin="round" stroke-linecap="round" />
<path d="M956.00,797.93 L957.50,798.01 L959.00,797.93 L960.50,797.54 L962.00,797.87 L963.50,797.92 L965.00,797.76 L966.50,798.04 L968.00,797.64 L969.50,798.06 L971.00,797.91 L972.50,797.48 L974.00,797.48 L975.50,797.86 L977.00,797.96 L978.50,797.52 L980.00,797.65 L981.50,797.90 L983.00,797.56 L984.50,797.98 L986.00,797.75 L987.50,797.49 L989.00,797.67 L990.50,797.80 L992.00,797.71 L993.50,797.85 L995.00,797.53 L996.50,797.92 L998.00,797.66 L999.50,797.83 L1001.00,797.82 L1002.50,797.69 L1004.00,797.66 L1005.50,797.90 L1007.00,798.00 L1008.50,797.90 L1010.00,797.77 L1011.50,797.60 L1013.00,797.46 L1014.50,798.00 L1016.00,797.84 L1017.50,797.91 L1019.00,797.61 L1020.50,797.77 L1022.00,797.99 L1023.50,797.91 L1025.00,797.76 L1026.50,797.59 L1028.00,797.66 L1029.50,797.93 L1031.00,797.62 L1032.50,797.80 L1034.00,797.75 L1035.50,797.93 L1037.00,797.87 L1038.50,797.56 L1040.00,797.38 L1041.50,797.54 L1043.00,797.63 L1044.50,797.73 L1046.00,797.86 L1047.50,797.91 L1049.00,797.40 L1050.50,797.87 L1052.00,797.85 L1053.50,797.88 L1055.00,797.71 L1056.50,797.52 L1058.00,797.87 L1059.50,797.84 L1061.00,797.76 L1062.50,797.90 L1064.00,797.56 L1065.50,797.40 L1067.00,797.68 L1068.50,797.82 L1070.00,797.46 L1071.50,797.79 L1073.00,797.90 L1074.50,797.48 L1076.00,797.70 L1077.50,797.74 L1079.00,797.61 L1080.50,797.45 L1082.00,797.48 L1083.50,797.77 L1085.00,797.80 L1086.50,797.59 L1088.00,797.37 L1089.50,797.80 L1091.00,797.78 L1092.50,797.45 L1094.00,797.66 L1095.50,797.84 L1097.00,797.84 L1098.50,797.62 L1100.00,797.59 L1101.51,797.65 L1103.03,797.41 L1104.54,797.41 L1106.05,797.40 L1107.57,797.71 L1109.08,797.51 L1110.59,797.63 L1112.11,797.53 L1113.62,797.60 L1115.14,797.38 L1116.65,797.31 L1118.16,797.88 L1119.68,797.51 L1121.19,797.34 L1122.70,797.66 L1124.22,797.75 L1125.73,797.37 L1127.24,797.63 L1128.76,797.48 L1130.27,797.58 L1131.78,797.28 L1133.30,797.29 L1134.81,797.86 L1136.32,797.79 L1137.84,797.56 L1139.35,797.61 L1140.86,797.42 L1142.38,797.73 L1143.89,797.52 L1145.41,797.83 L1146.92,797.72 L1148.43,797.75 L1149.95,797.83 L1151.46,797.41 L1152.97,797.28 L1154.49,797.37 L1156.00,797.36 L1157.51,797.30 L1159.03,797.28 L1160.54,797.58 L1162.05,797.77 L1163.57,797.52 L1165.08,797.81 L1166.59,797.79 L1168.11,797.28 L1169.62,797.60 L1171.14,797.47 L1172.65,797.31 L1174.16,797.81 L1175.68,797.39 L1177.19,797.57 L1178.70,797.61 L1180.22,797.80 L1181.73,797.63 L1183.24,797.46 L1184.76,797.49 L1186.27,797.32 L1187.78,797.80 L1189.30,797.82 L1190.81,797.35 L1192.32,797.24 L1193.84,797.37 L1195.35,797.43 L1196.86,797.76 L1198.38,797.75 L1199.89,797.71 L1201.41,797.24 L1202.92,797.68 L1204.43,797.63 L1205.95,797.59 L1207.46,797.80 L1208.97,797.24 L1210.49,797.29 L1212.00,797.50" fill="none" stroke="#0000ff" stroke-width="5" stroke-linejoin="round" stroke-linecap="round" />
<path d="M954.50,934.00 L956.00,918.00 L958.00,915.30 L959.51,915.34 L961.02,915.11 L962.53,914.79 L964.04,915.01 L965.55,915.13 L967.06,914.59 L968.57,914.75 L970.09,914.68 L971.60,914.56 L973.11,914.83 L974.62,914.56 L976.13,914.60 L977.64,914.51 L979.15,914.92 L980.66,914.37 L982.17,914.92 L983.68,914.48 L985.19,914.34 L986.70,915.04 L988.21,914.46 L989.72,915.01 L991.23,914.94 L992.74,914.94 L994.26,914.33 L995.77,914.56 L997.28,914.26 L998.79,914.91 L1000.30,914.83 L1001.81,914.64 L1003.32,914.48 L1004.83,914.38 L1006.34,914.75 L1007.85,914.46 L1009.36,914.56 L1010.87,914.16 L1012.38,914.20 L1013.89,914.05 L1015.40,914.56 L1016.91,914.42 L1018.43,914.08 L1019.94,914.64 L1021.45,914.14 L1022.96,914.24 L1024.47,914.02 L1025.98,914.10 L1027.49,914.54 L1029.00,914.12 L1030.51,913.97 L1032.02,914.21 L1033.53,914.06 L1035.04,914.51 L1036.55,913.86 L1038.06,914.54 L1039.57,913.78 L1041.09,914.44 L1042.60,914.24 L1044.11,913.86 L1045.62,914.06 L1047.13,913.89 L1048.64,913.85 L1050.15,913.79 L1051.66,913.90 L1053.17,914.39 L1054.68,914.38 L1056.19,914.30 L1057.70,913.62 L1059.21,913.76 L1060.72,914.23 L1062.23,913.54 L1063.74,914.06 L1065.26,913.70 L1066.77,914.23 L1068.28,913.45 L1069.79,914.06 L1071.30,913.68 L1072.81,913.50 L1074.32,913.37 L1075.83,914.02 L1077.34,913.76 L1078.85,913.47 L1080.36,913.66 L1081.87,914.02 L1083.38,913.45 L1084.89,913.72 L1086.40,913.35 L1087.91,913.37 L1089.43,913.83 L1090.94,913.77 L1092.45,913.34 L1093.96,913.23 L1095.47,913.22 L1096.98,913.62 L1098.49,913.51 L1100.00,913.32 L1101.51,913.23 L1103.03,913.52 L1104.54,913.56 L1106.05,913.61 L1107.57,913.40 L1109.08,913.06 L1110.59,912.92 L1112.11,913.42 L1113.62,913.12 L1115.14,913.34 L1116.65,912.77 L1118.16,913.34 L1119.68,912.93 L1121.19,913.30 L1122.70,913.28 L1124.22,912.95 L1125.73,912.54 L1127.24,913.22 L1128.76,912.84 L1130.27,913.12 L1131.78,912.60 L1133.30,912.51 L1134.81,912.99 L1136.32,912.58 L1137.84,912.39 L1139.35,912.52 L1140.86,912.66 L1142.38,912.16 L1143.89,912.54 L1145.41,912.44 L1146.92,912.47 L1148.43,912.12 L1149.95,912.56 L1151.46,912.60 L1152.97,912.61 L1154.49,912.14 L1156.00,912.42 L1157.51,912.12 L1159.03,912.38 L1160.54,911.80 L1162.05,912.41 L1163.57,912.44 L1165.08,912.04 L1166.59,912.02 L1168.11,912.00 L1169.62,911.98 L1171.14,911.53 L1172.65,912.25 L1174.16,911.62 L1175.68,911.56 L1177.19,911.46 L1178.70,911.54 L1180.22,911.96 L1181.73,911.30 L1183.24,911.32 L1184.76,911.77 L1186.27,911.33 L1187.78,911.15 L1189.30,911.59 L1190.81,911.53 L1192.32,911.46 L1193.84,911.57 L1195.35,911.05 L1196.86,911.63 L1198.38,911.48 L1199.89,910.91 L1201.41,910.93 L1202.92,911.20 L1204.43,911.17 L1205.95,910.96 L1207.46,910.80 L1208.97,910.99 L1210.49,910.74 L1212.00,911.00" fill="none" stroke="#000" stroke-width="5" stroke-linejoin="round" stroke-linecap="round" />
<line x1="952.40" y1="611.00" x2="952.40" y2="634.30" stroke="#000" stroke-width="5.0" />
<line x1="952.40" y1="657.40" x2="952.40" y2="680.70" stroke="#000" stroke-width="5.0" />
<line x1="952.40" y1="703.80" x2="952.40" y2="727.10" stroke="#000" stroke-width="5.0" />
<line x1="952.40" y1="750.20" x2="952.40" y2="773.50" stroke="#000" stroke-width="5.0" />
<line x1="952.40" y1="796.60" x2="952.40" y2="819.90" stroke="#000" stroke-width="5.0" />
<line x1="952.40" y1="843.00" x2="952.40" y2="866.30" stroke="#000" stroke-width="5.0" />
<line x1="952.40" y1="889.40" x2="952.40" y2="912.70" stroke="#000" stroke-width="5.0" />
<line x1="952.40" y1="935.80" x2="952.40" y2="959.10" stroke="#000" stroke-width="5.0" />
<line x1="952.40" y1="982.20" x2="952.40" y2="1005.50" stroke="#000" stroke-width="5.0" />
<path d="M821.30,821.80 L861.90,812.90 L861.90,832.90 L821.30,824.00Z" fill="#000" stroke="none" />
<line x1="860.90" y1="822.90" x2="887.60" y2="822.90" stroke="#000" stroke-width="3.2" />
<line x1="887.60" y1="684.80" x2="887.60" y2="912.80" stroke="#000" stroke-width="3.2" />
<path d="M1115.10,706.20 L1115.10,678.20 L1143.90,678.20" fill="none" stroke="#ff1a0f" stroke-width="3.0" stroke-linejoin="round" stroke-linecap="butt" />
<path d="M1142.90,668.20 L1183.80,678.20 L1142.90,688.20Z" fill="#ff1a0f" stroke="none" />
<path d="M967.00,809.60 L957.80,846.60 L976.20,846.60Z" fill="#000" stroke="none" />
<path d="M967.00,909.00 L957.80,872.00 L976.20,872.00Z" fill="#000" stroke="none" />
<line x1="967.00" y1="845.60" x2="967.00" y2="873.00" stroke="#000" stroke-width="2.6" />
<text transform="translate(861.30,653.00) scale(1,1.1)" font-size="32" text-anchor="start" fill="#000" font-weight="normal" >OC</text>
<text transform="translate(980.20,653.00) scale(1,1.1)" font-size="32" text-anchor="start" fill="#000" font-weight="normal" >SC</text>
<text x="1083.0" y="778.9" font-size="26" fill="#0000ff">20 kPa O<tspan font-size="17" dy="7">2</tspan><tspan dy="-7"></tspan></text>
<text x="986.5" y="828.0" font-size="26" fill="#0000ff">Pt/C in 0.1 M HClO<tspan font-size="17" dy="7">4</tspan><tspan dy="-7"></tspan></text>
<text x="983.5" y="870.4" font-size="26"><tspan font-style="italic">IR</tspan> loss</text>
<text x="985.5" y="942.0" font-size="26" fill="#000">Pt/C in 10 mM HQ</text>
<text x="992.5" y="974.4" font-size="26" fill="#000">+0.1 M HClO<tspan font-size="17" dy="7">4</tspan><tspan dy="-7"></tspan></text>
<text x="1167.0" y="974.4" font-size="26" fill="#000">Ar</text>
<g transform="translate(129.20,354.54) scale(1,1.03)" fill="#fff"><rect x="-16.54" y="-3.75" width="6.75" height="4.84"/><rect x="-6.87" y="-3.75" width="6.42" height="4.84"/></g>
<g transform="translate(568.30,479.60) scale(1,1.03)" fill="#fff"><rect x="-20.98" y="-3.75" width="6.75" height="4.84"/><rect x="-11.31" y="-3.75" width="6.42" height="4.84"/></g>
<g transform="translate(68.5,438.5) rotate(-90)" fill="#fff"><rect x="426.55" y="-17.46" width="4.43" height="3.18"/><rect x="432.90" y="-17.46" width="4.21" height="3.18"/></g>
<g fill="#fff"><rect x="584.90" y="523.34" width="4.43" height="3.18"/><rect x="591.25" y="523.34" width="4.21" height="3.18"/></g>
<g transform="translate(906.28,479.60) scale(1,1.03)" fill="#fff"><rect x="-16.54" y="-3.75" width="6.75" height="4.84"/><rect x="-6.87" y="-3.75" width="6.42" height="4.84"/></g>
<g transform="translate(1261.40,65.35) scale(1,1.03)" fill="#fff"><rect x="1.25" y="-3.75" width="6.75" height="4.84"/><rect x="10.92" y="-3.75" width="6.42" height="4.84"/></g>
<g fill="#fff"><rect x="1086.50" y="299.45" width="5.48" height="3.94"/><rect x="1094.36" y="299.45" width="5.22" height="3.94"/></g>
<g fill="#fff"><rect x="1074.75" y="361.55" width="5.48" height="3.94"/><rect x="1082.61" y="361.55" width="5.22" height="3.94"/></g>
<g fill="#fff"><rect x="1033.38" y="393.35" width="5.48" height="3.94"/><rect x="1041.23" y="393.35" width="5.22" height="3.94"/></g>
<g transform="translate(241.34,1071.00) scale(1,1.03)" fill="#fff"><rect x="-16.54" y="-3.75" width="6.75" height="4.84"/><rect x="-6.87" y="-3.75" width="6.42" height="4.84"/></g>
<g transform="translate(596.30,619.60) scale(1,1.03)" fill="#fff"><rect x="1.25" y="-3.75" width="6.75" height="4.84"/><rect x="10.92" y="-3.75" width="6.42" height="4.84"/></g>
<g fill="#fff"><rect x="419.44" y="818.95" width="5.48" height="3.94"/><rect x="427.30" y="818.95" width="5.22" height="3.94"/></g>
<g fill="#fff"><rect x="401.31" y="931.35" width="5.48" height="3.94"/><rect x="409.17" y="931.35" width="5.22" height="3.94"/></g>
<g fill="#fff"><rect x="375.38" y="962.95" width="5.48" height="3.94"/><rect x="383.23" y="962.95" width="5.22" height="3.94"/></g>
<g transform="translate(906.26,1070.80) scale(1,1.03)" fill="#fff"><rect x="-16.54" y="-3.75" width="6.75" height="4.84"/><rect x="-6.87" y="-3.75" width="6.42" height="4.84"/></g>
<g transform="translate(1261.30,619.60) scale(1,1.03)" fill="#fff"><rect x="1.25" y="-3.75" width="6.75" height="4.84"/><rect x="10.92" y="-3.75" width="6.42" height="4.84"/></g>
<g fill="#fff"><rect x="1094.44" y="824.95" width="5.48" height="3.94"/><rect x="1102.30" y="824.95" width="5.22" height="3.94"/></g>
<g fill="#fff"><rect x="1071.75" y="938.95" width="5.48" height="3.94"/><rect x="1079.61" y="938.95" width="5.22" height="3.94"/></g>
<g fill="#fff"><rect x="1030.38" y="971.35" width="5.48" height="3.94"/><rect x="1038.23" y="971.35" width="5.22" height="3.94"/></g>
</svg>
</body></html>
